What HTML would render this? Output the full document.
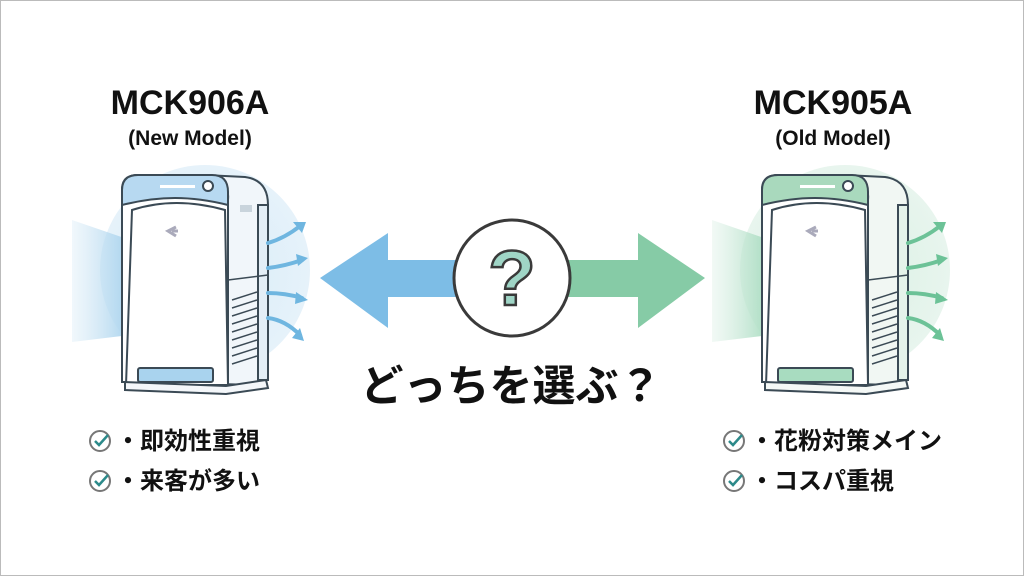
<!DOCTYPE html>
<html><head><meta charset="utf-8"><style>
body{margin:0;width:1024px;height:576px;background:#fff;overflow:hidden;font-family:"Liberation Sans","Noto Sans CJK JP",sans-serif}
</style></head><body>
<svg width="1024" height="576" viewBox="0 0 1024 576" xmlns="http://www.w3.org/2000/svg" font-family="Liberation Sans, Noto Sans CJK JP, sans-serif">
<defs>
<linearGradient id="lb" x1="0" x2="1"><stop offset="0" stop-color="#cfe6f4" stop-opacity=".3"/><stop offset="1" stop-color="#a9d3ee"/></linearGradient>
<linearGradient id="lg" x1="0" x2="1"><stop offset="0" stop-color="#d3ecdf" stop-opacity=".3"/><stop offset="1" stop-color="#a8dcc0"/></linearGradient>
<radialGradient id="rb"><stop offset="0" stop-color="#d6ebf7"/><stop offset="1" stop-color="#e6f2fa"/></radialGradient>
<radialGradient id="rg"><stop offset="0" stop-color="#d8efe2"/><stop offset="1" stop-color="#e8f5ee"/></radialGradient>
</defs>
<rect x="0.5" y="0.5" width="1023" height="575" fill="#fff" stroke="#bbb"/>
<circle cx="205" cy="270" r="105" fill="url(#rb)"/>
<polygon points="72,220 130,240 130,335 72,342" fill="url(#lb)"/>
<g stroke="#3b4a55" stroke-width="2" fill="#fff">
<path d="M128,382 L258,385 L268,378 L268,205 Q268,180 245,177 L205,175 Z" fill="#f1f6fa"/>
<rect x="258" y="205" width="10" height="175" fill="#e3eef6"/>
<path d="M122,382 V190 Q122,175 138,175 H205 Q230,175 228,200 V382 Z" fill="#fff"/>
<path d="M122,200 V190 Q122,175 138,175 H212 Q228,175 228,192 V205 Q200,198 175,198 Q150,198 122,205 Z" fill="#b7d9f1"/>
<path d="M126,385 L132,210 Q175,196 225,210 L228,385 Z" fill="#fff"/>
<rect x="138" y="368" width="75" height="14" rx="2" fill="#a9d3ee"/>
<path d="M125,382 L226,386 L266,380 L268,388 L226,394 L125,390 Z" fill="#f4f7fa"/>
</g>
<rect x="160" y="185" width="35" height="3" fill="#fff"/>
<circle cx="208" cy="186" r="5" fill="#fff" stroke="#3b4a55" stroke-width="2"/>
<rect x="240" y="205" width="12" height="7" fill="#c9d4dc"/>
<path d="M176,227 l-8,4 8,5 M172,231 h6" stroke="#aab" stroke-width="3" fill="none"/>
<g stroke="#3b4a55" stroke-width="1.5">
<line x1="232" y1="300" x2="257" y2="292"/><line x1="232" y1="308" x2="257" y2="300"/><line x1="232" y1="316" x2="257" y2="308"/><line x1="232" y1="324" x2="257" y2="316"/><line x1="232" y1="332" x2="257" y2="324"/><line x1="232" y1="340" x2="257" y2="332"/><line x1="232" y1="348" x2="257" y2="340"/><line x1="232" y1="356" x2="257" y2="348"/><line x1="232" y1="364" x2="257" y2="356"/>
<line x1="228" y1="280" x2="268" y2="275"/>
</g>
<g stroke="#6fb6e0" stroke-width="4" fill="none" stroke-linecap="round">
<path d="M268,243 Q285,238 300,226"/><path d="M268,268 Q285,266 302,260"/><path d="M268,293 Q285,293 302,298"/><path d="M268,318 Q285,320 300,335"/>
</g>
<g fill="#6fb6e0"><polygon points="306,222 293,222 302,233"/><polygon points="308,258 296,254 298,266"/><polygon points="308,300 296,292 295,304"/><polygon points="304,341 300,328 292,338"/></g>
<circle cx="845" cy="270" r="105" fill="url(#rg)"/>
<polygon points="712,220 770,240 770,335 712,342" fill="url(#lg)"/>
<g transform="translate(640,0)">
<g stroke="#3b4a55" stroke-width="2" fill="#fff">
<path d="M128,382 L258,385 L268,378 L268,205 Q268,180 245,177 L205,175 Z" fill="#f1f7f3"/>
<rect x="258" y="205" width="10" height="175" fill="#e4f2ea"/>
<path d="M122,382 V190 Q122,175 138,175 H205 Q230,175 228,200 V382 Z" fill="#fff"/>
<path d="M122,200 V190 Q122,175 138,175 H212 Q228,175 228,192 V205 Q200,198 175,198 Q150,198 122,205 Z" fill="#a9d9bd"/>
<path d="M126,385 L132,210 Q175,196 225,210 L228,385 Z" fill="#fff"/>
<rect x="138" y="368" width="75" height="14" rx="2" fill="#a8dcc0"/>
<path d="M125,382 L226,386 L266,380 L268,388 L226,394 L125,390 Z" fill="#f4f8f6"/>
</g>
<rect x="160" y="185" width="35" height="3" fill="#fff"/>
<circle cx="208" cy="186" r="5" fill="#fff" stroke="#3b4a55" stroke-width="2"/>
<path d="M176,227 l-8,4 8,5 M172,231 h6" stroke="#aab" stroke-width="3" fill="none"/>
<g stroke="#3b4a55" stroke-width="1.5">
<line x1="232" y1="300" x2="257" y2="292"/><line x1="232" y1="308" x2="257" y2="300"/><line x1="232" y1="316" x2="257" y2="308"/><line x1="232" y1="324" x2="257" y2="316"/><line x1="232" y1="332" x2="257" y2="324"/><line x1="232" y1="340" x2="257" y2="332"/><line x1="232" y1="348" x2="257" y2="340"/><line x1="232" y1="356" x2="257" y2="348"/><line x1="232" y1="364" x2="257" y2="356"/>
<line x1="228" y1="280" x2="268" y2="275"/>
</g>
<g stroke="#6cc297" stroke-width="4" fill="none" stroke-linecap="round">
<path d="M268,243 Q285,238 300,226"/><path d="M268,268 Q285,266 302,260"/><path d="M268,293 Q285,293 302,298"/><path d="M268,318 Q285,320 300,335"/>
</g>
<g fill="#6cc297"><polygon points="306,222 293,222 302,233"/><polygon points="308,258 296,254 298,266"/><polygon points="308,300 296,292 295,304"/><polygon points="304,341 300,328 292,338"/></g>
</g>
<polygon points="320,278 388,233 388,260 460,260 460,297 388,297 388,328" fill="#7dbde6"/>
<polygon points="705,278 638,233 638,260 565,260 565,297 638,297 638,328" fill="#86cba6"/>
<circle cx="512" cy="278" r="58" fill="#fff" stroke="#3a3a3a" stroke-width="3"/>
<text x="512" y="305" text-anchor="middle" font-size="78" font-weight="bold" fill="#9fd5c6" stroke="#3a3a3a" stroke-width="2.5">?</text>
<text x="511" y="401" text-anchor="middle" font-size="43" font-weight="bold" fill="#111">どっちを選ぶ？</text>
<text x="190" y="114" text-anchor="middle" font-size="34" font-weight="bold" fill="#111">MCK906A</text>
<text x="190" y="145" text-anchor="middle" font-size="21" font-weight="bold" fill="#111">(New Model)</text>
<text x="833" y="114" text-anchor="middle" font-size="34" font-weight="bold" fill="#111">MCK905A</text>
<text x="833" y="145" text-anchor="middle" font-size="21" font-weight="bold" fill="#111">(Old Model)</text>
<g fill="none" stroke="#777" stroke-width="2">
<circle cx="100" cy="441" r="10"/><circle cx="100" cy="481" r="10"/><circle cx="734" cy="441" r="10"/><circle cx="734" cy="481" r="10"/>
</g>
<g fill="none" stroke="#2c8a8a" stroke-width="2.5">
<path d="M95,441 l4,4 9,-10"/><path d="M95,481 l4,4 9,-10"/><path d="M729,441 l4,4 9,-10"/><path d="M729,481 l4,4 9,-10"/>
</g>
<g font-size="24" font-weight="bold" fill="#111">
<text x="116" y="449">・即効性重視</text>
<text x="116" y="489">・来客が多い</text>
<text x="750" y="449">・花粉対策メイン</text>
<text x="750" y="489">・コスパ重視</text>
</g>
</svg>
</body></html>
